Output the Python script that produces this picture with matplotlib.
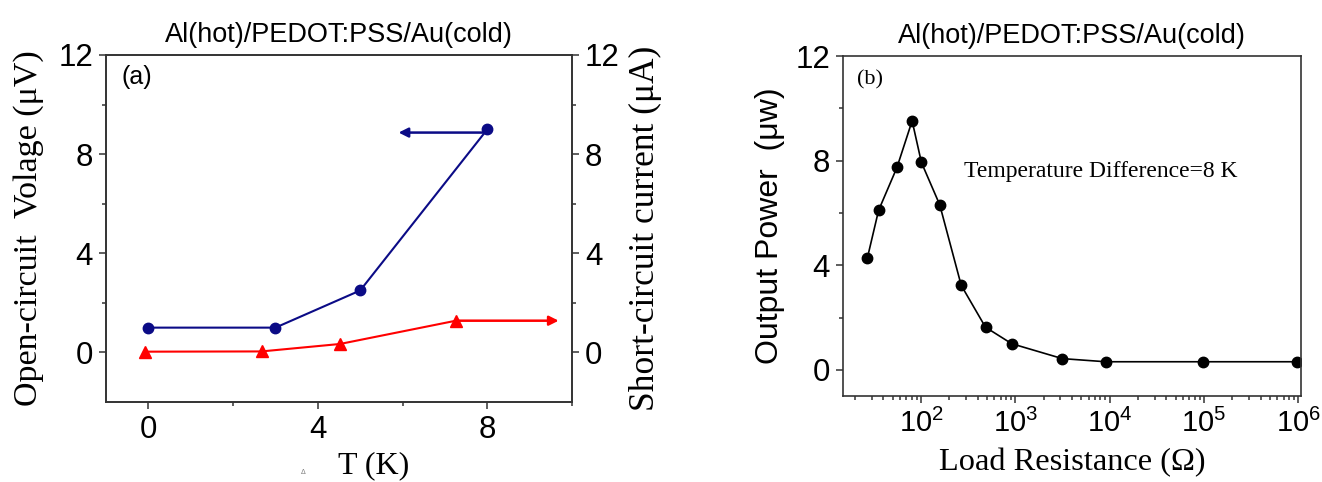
import matplotlib
matplotlib.use("Agg")
import matplotlib.pyplot as plt
from matplotlib.ticker import LogLocator, NullFormatter, FixedLocator

# ---- data ----
T_voc = [0, 3, 5, 8]
voc = [1.0, 1.0, 2.5, 9.0]
T_isc = [-0.07, 2.67, 4.52, 7.26]
isc = [0.03, 0.04, 0.34, 1.28]

load_res = [27, 35.5, 55.6, 80.5, 101, 158, 267, 483, 916, 3150, 9080, 97000, 960000]
power = [4.28, 6.10, 7.74, 9.52, 7.93, 6.31, 3.23, 1.63, 1.0, 0.43, 0.31, 0.31, 0.31]

title_txt = "Al(hot)/PEDOT:PSS/Au(cold)"
y_ticks = [0, 4, 8, 12]
x_ticks_a = [0, 4, 8]
x_ticks_b = [1e2, 1e3, 1e4, 1e5, 1e6]

SANS = "Liberation Sans"
SERIF = "Liberation Serif"
spine_c = "#333333"
TICK_FS = 22.5

fig = plt.figure(figsize=(13.22, 4.82), dpi=100)

def style_ticks(a, labelsize=TICK_FS):
    a.tick_params(which="both", direction="out", color=spine_c, width=1.1, labelsize=labelsize)
    a.tick_params(which="major", length=5, pad=4.3)
    a.tick_params(which="minor", length=3)
    for s in a.spines.values():
        s.set_color(spine_c)
        s.set_linewidth(1.2)

# ---------------- panel (a) ----------------
ax = fig.add_axes([0.0802, 0.166, 0.3525, 0.7199])
blue = "#0b0b86"
ax.plot(T_voc, voc, color=blue, lw=1.5, marker="o", ms=7.5, mfc=blue, mec=blue, zorder=3)
ax.plot(T_isc, isc, color="red", lw=1.5, marker="^", ms=8.5, mfc="red", mec="red", zorder=3)
ax.annotate("", xy=(5.84, 8.87), xytext=(T_voc[-1], 8.87),
            arrowprops=dict(arrowstyle="-|>", color=blue, lw=1.8, mutation_scale=14))
ax.annotate("", xy=(9.75, isc[-1]), xytext=(T_isc[-1], isc[-1]),
            arrowprops=dict(arrowstyle="-|>", color="red", lw=1.8, mutation_scale=14))
ax.set_xlim(-1, 10)
ax.set_ylim(-2, 12)
ax.set_xticks(x_ticks_a)
ax.set_yticks(y_ticks)
ax.xaxis.set_minor_locator(FixedLocator([2, 6, 10]))
ax.yaxis.set_minor_locator(FixedLocator([2, 6, 10]))
style_ticks(ax)
for lab in ax.get_xticklabels() + ax.get_yticklabels():
    lab.set_family(SANS)
ax.set_title(title_txt, fontsize=19.5, family=SANS, pad=9.4)
ax.text(0.034, 0.971, "(a)", transform=ax.transAxes, fontsize=18, family=SANS, va="top", ha="left")
ax.set_xlabel("T (K)", family=SERIF, fontsize=23)
ax.xaxis.label.set_va("center")
ax.xaxis.set_label_coords(0.575, -0.184)
ax.set_ylabel("Open-circuit  Volage (\u03bcV)", family=SERIF, fontsize=24.5)
ax.yaxis.label.set_va("center")
ax.yaxis.set_label_coords(-0.167, 0.5)
fig.text(0.229, 0.019, "\u0394", fontsize=5, color="#777777", ha="center", va="center", family=SANS)

ax2 = ax.twinx()
ax2.set_ylim(-2, 12)
ax2.set_yticks(y_ticks)
ax2.yaxis.set_minor_locator(FixedLocator([2, 6, 10]))
style_ticks(ax2)
for lab in ax2.get_yticklabels():
    lab.set_family(SANS)
ax2.set_ylabel("Short-circuit current (\u03bcA)", family=SERIF, fontsize=25.5)
ax2.yaxis.label.set_va("center")
ax2.yaxis.set_label_coords(1.157, 0.5)

# ---------------- panel (b) ----------------
bx = fig.add_axes([0.6377, 0.1784, 0.3464, 0.7054])
bx.plot(load_res, power, color="black", lw=1.2, marker="o", ms=7.5, mfc="black", mec="black")
bx.set_xscale("log")
bx.set_xlim(14.9, 1.07e6)
bx.set_ylim(-1, 12)
bx.set_yticks(y_ticks)
bx.yaxis.set_minor_locator(FixedLocator([2, 6, 10]))
bx.set_xticks(x_ticks_b)
bx.set_xticklabels([r"$\mathregular{10^{%d}}$" % e for e in range(2, 7)])
bx.xaxis.set_minor_locator(LogLocator(base=10, subs=range(2, 10)))
bx.xaxis.set_minor_formatter(NullFormatter())
style_ticks(bx)
bx.tick_params(axis="x", labelsize=21)
for lab in bx.get_xticklabels() + bx.get_yticklabels():
    lab.set_family(SANS)
bx.set_title(title_txt, fontsize=19.5, family=SANS, pad=9.4)
bx.text(0.03, 0.959, "(b)", transform=bx.transAxes, fontsize=16, family=SERIF, va="top", ha="left")
bx.text(284, 7.57, "Temperature Difference=8 K", family=SERIF, fontsize=17, va="center", ha="left")
bx.set_xlabel("Load Resistance (\u03a9)", family=SERIF, fontsize=23.3)
bx.xaxis.label.set_va("center")
bx.xaxis.set_label_coords(0.5, -0.197)
bx.set_ylabel("Output Power  (\u03bcw)", family=SANS, fontsize=23)
bx.yaxis.label.set_va("center")
bx.yaxis.set_label_coords((770 - 843) / 458, 0.5)

fig.savefig("out.png", dpi=100)
